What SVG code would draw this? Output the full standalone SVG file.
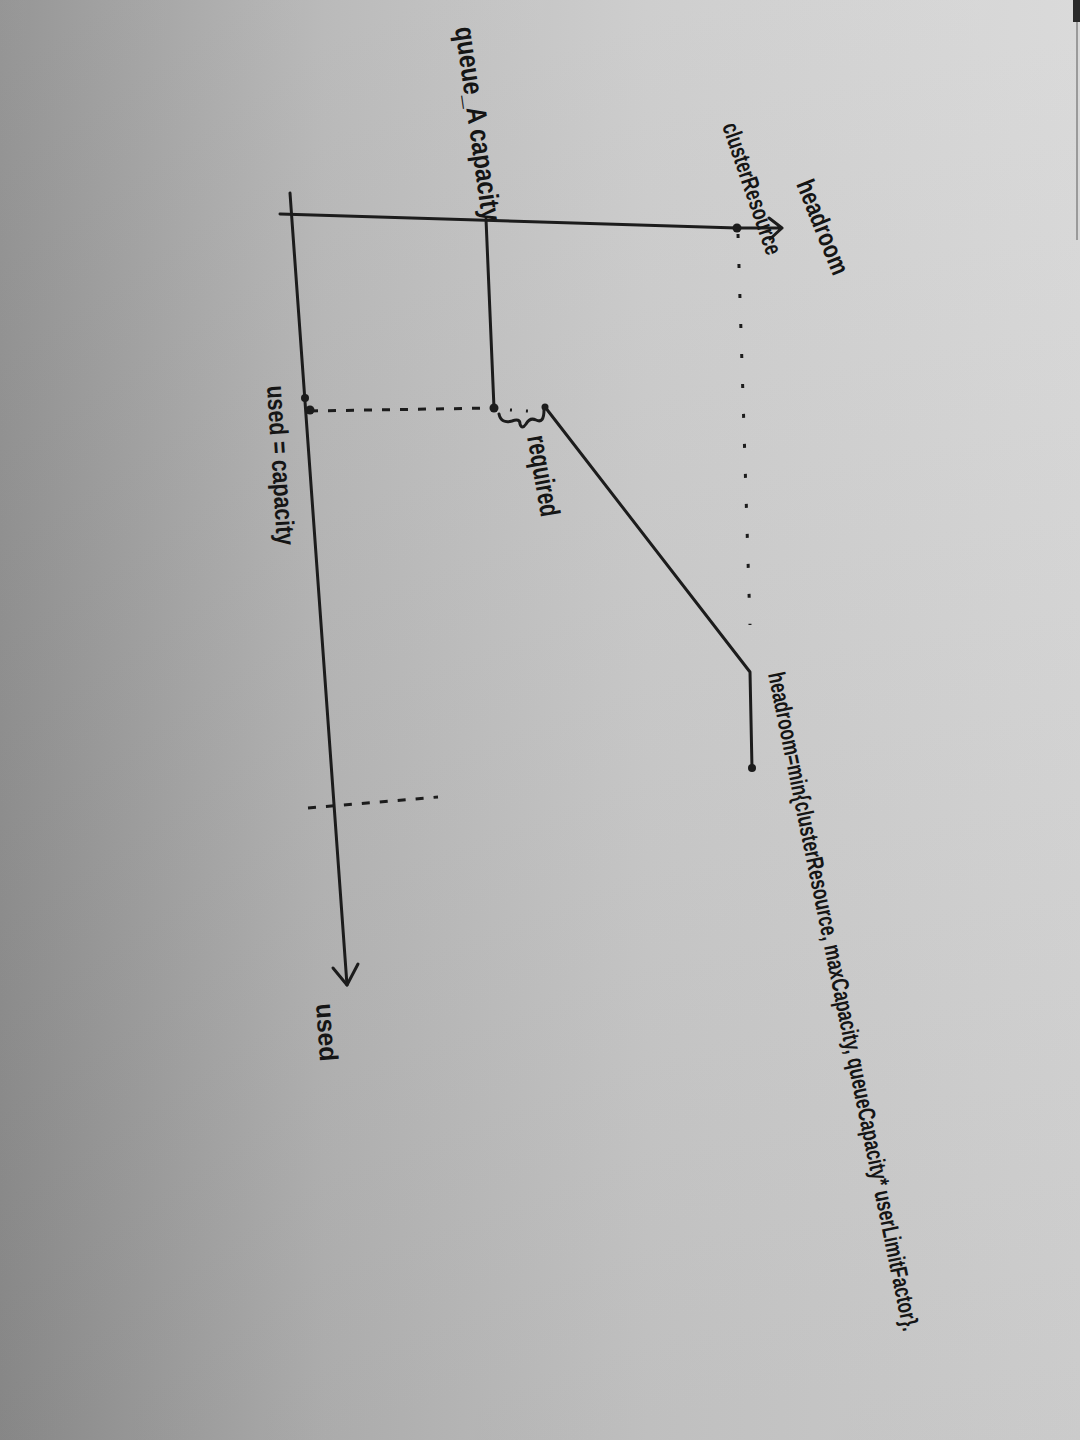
<svg xmlns="http://www.w3.org/2000/svg" width="1080" height="1440" viewBox="0 0 1080 1440">
  <defs>
    <linearGradient id="paper" x1="0" y1="0" x2="1" y2="0">
      <stop offset="0" stop-color="#8f8f8f"/>
      <stop offset="0.3" stop-color="#b6b6b6"/>
      <stop offset="0.6" stop-color="#cbcbcb"/>
      <stop offset="1" stop-color="#d8d8d8"/>
    </linearGradient>
    <linearGradient id="shade" x1="0" y1="0" x2="0" y2="1">
      <stop offset="0" stop-color="#ffffff" stop-opacity="0.06"/>
      <stop offset="1" stop-color="#000000" stop-opacity="0.06"/>
    </linearGradient>
  </defs>
  <style>
    .ink { stroke: #1c1c1c; stroke-width: 3; fill: none; stroke-linecap: round; stroke-linejoin: round; }
    .dash { stroke: #1c1c1c; stroke-width: 3; fill: none; stroke-dasharray: 8 10; }
    .dot-line { stroke: #1c1c1c; stroke-width: 3; fill: none; stroke-dasharray: 4 26; }
    .pt { fill: #1c1c1c; }
    .hand { font-family: "Liberation Sans Narrow", "Liberation Sans", "DejaVu Sans", sans-serif; fill: #151515; font-weight: bold; }
  </style>

  <rect x="0" y="0" width="1080" height="1440" fill="url(#paper)"/>
  <rect x="0" y="0" width="1080" height="1440" fill="url(#shade)"/>
  <rect x="1073" y="0" width="7" height="22" fill="#2a2a2a"/>
  <line x1="1077" y1="22" x2="1077" y2="240" stroke="#9a9a9a" stroke-width="2"/>

  <g id="connectors">
    <!-- top horizontal line (clusterResource level) -->
    <path class="ink" d="M280,214 L737,228"/>
    <!-- used axis with arrow -->
    <path class="ink" d="M290,193 L347,985"/>
    <path class="ink" d="M333,968 L347,985 L358,964"/>
    <!-- queue_A capacity vertical -->
    <path class="ink" d="M486,219 L494,408"/>
    <!-- dashed line used = capacity -->
    <path class="dash" d="M310,411 L494,408"/>
    <path class="dot-line" style="stroke-dasharray:2 14" d="M494,409 L528,411"/>
    <!-- dotted line down from clusterResource -->
    <path class="dot-line" d="M738,234 L750,625"/>
    <!-- diagonal headroom line -->
    <path class="ink" d="M545,407 L750,672 L752,768"/>
    <!-- lower dashed tick -->
    <path class="dash" d="M308,808 L438,797"/>
    <!-- headroom arrow -->
    <path class="ink" d="M740,228 L782,228 M769,218 L782,228 L770,239"/>
    <!-- brace for required -->
    <path class="ink" d="M499,414 Q501,424 512,421 Q520,418 520,424 Q522,430 526,424 Q530,417 536,420 Q544,424 544,410"/>
  </g>

  <g id="point-cluster"><circle class="pt" cx="737" cy="228" r="4.5"/></g>
  <g id="point-capacity"><circle class="pt" cx="494" cy="408" r="4.5"/></g>
  <g id="point-used1"><circle class="pt" cx="305" cy="398" r="4"/></g>
  <g id="point-used2"><circle class="pt" cx="310" cy="410" r="4.5"/></g>
  <g id="point-diag"><circle class="pt" cx="545" cy="407" r="3.5"/></g>
  <g id="point-end"><circle class="pt" cx="752" cy="768" r="4"/></g>

  <g id="label-queue-capacity">
    <text class="hand" font-size="28" textLength="196" lengthAdjust="spacingAndGlyphs" transform="translate(455,28) rotate(82)">queue_A capacity</text>
  </g>
  <g id="label-cluster-resource">
    <text class="hand" font-size="24" textLength="138" lengthAdjust="spacingAndGlyphs" transform="translate(722,126) rotate(71)">clusterResource</text>
  </g>
  <g id="label-headroom">
    <text class="hand" font-size="26" textLength="100" lengthAdjust="spacingAndGlyphs" transform="translate(796,184) rotate(68)">headroom</text>
  </g>
  <g id="label-used-capacity">
    <text class="hand" font-size="26" textLength="160" lengthAdjust="spacingAndGlyphs" transform="translate(267,386) rotate(86.4)">used = capacity</text>
  </g>
  <g id="label-required">
    <text class="hand" font-size="28" textLength="82" lengthAdjust="spacingAndGlyphs" transform="translate(527,437) rotate(80)">required</text>
  </g>
  <g id="label-used">
    <text class="hand" font-size="26" textLength="58" lengthAdjust="spacingAndGlyphs" transform="translate(316,1004) rotate(86)">used</text>
  </g>
  <g id="label-formula">
    <text class="hand" font-size="24" textLength="672" lengthAdjust="spacingAndGlyphs" transform="translate(768,674) rotate(78.4)">headroom=min{clusterResource, maxCapacity, queueCapacity* userLimitFactor}.</text>
  </g>
</svg>
